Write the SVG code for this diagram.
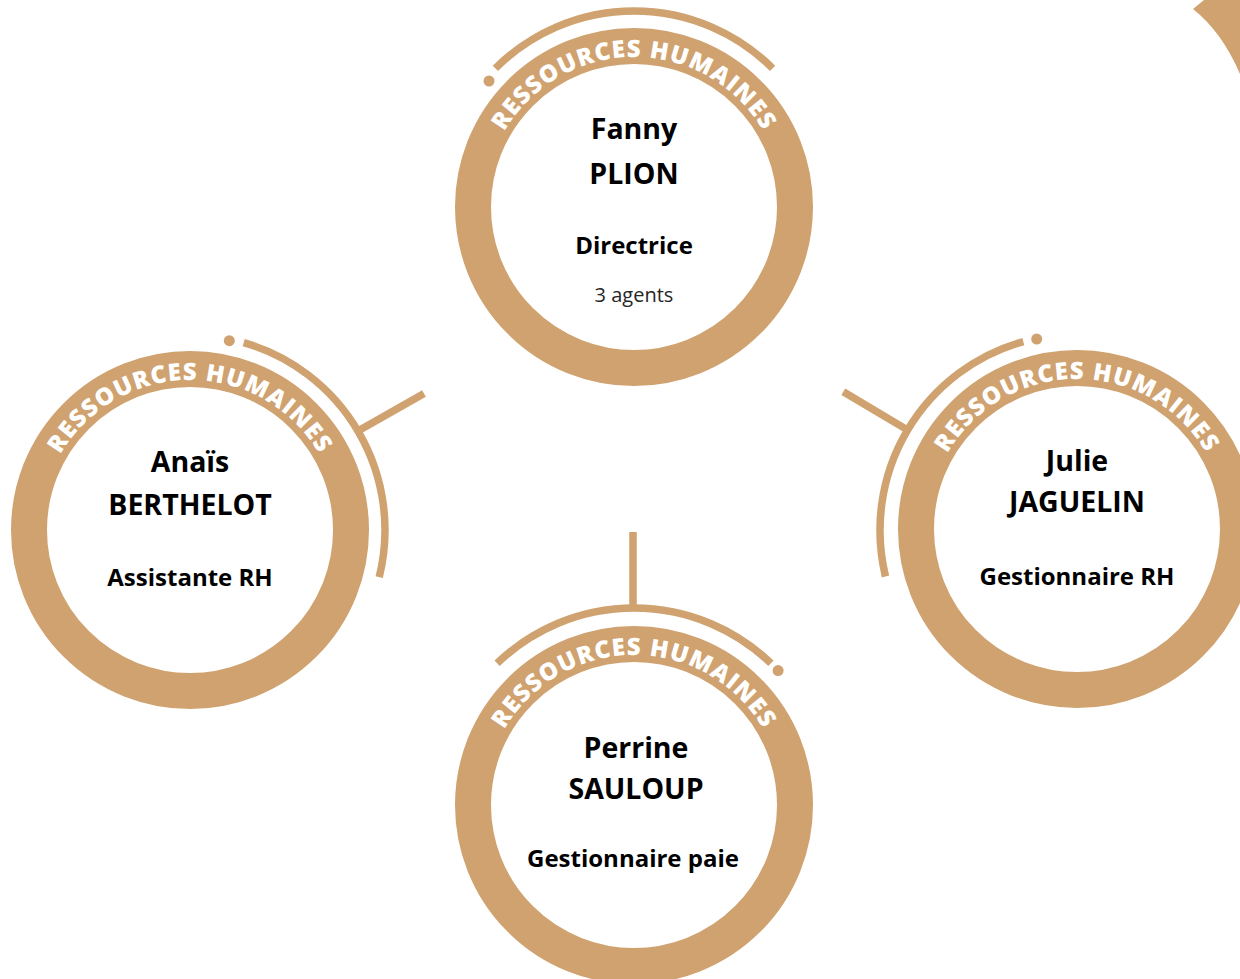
<svg xmlns="http://www.w3.org/2000/svg" width="1240" height="979" viewBox="0 0 1240 979">
  <style>
    .ring { fill: none; stroke: #CFA26F; stroke-width: 36; }
    .thin { fill: none; stroke: #CFA26F; stroke-width: 7.5; }
    .dot { fill: #CFA26F; }
    .conn { stroke: #CFA26F; stroke-width: 7.5; fill: none; }
    .band { font-family: "Open Sans", "Liberation Sans", Arial, sans-serif; font-weight: 800; font-size: 24px; fill: #ffffff; letter-spacing: 1.1px; }
    .name { font-family: "Open Sans", "Liberation Sans", sans-serif; font-weight: bold; font-size: 28.5px; fill: #000; text-anchor: middle; }
    .role { font-family: "Open Sans", "Liberation Sans", sans-serif; font-weight: bold; font-size: 24px; fill: #000; text-anchor: middle; }
    .sub { font-family: "Open Sans", "Liberation Sans", sans-serif; font-size: 20px; fill: #262626; text-anchor: middle; }
  </style>
  <defs>
    <path id="tp-top" d="M484,207 A150,150 0 0 1 784,207"/>
    <path id="tp-left" d="M40,530 A150,150 0 0 1 340,530"/>
    <path id="tp-right" d="M927,529 A150,150 0 0 1 1227,529"/>
    <path id="tp-bottom" d="M484,805 A150,150 0 0 1 784,805"/>
  </defs>
  <rect width="1240" height="979" fill="#ffffff"/>

  <path d="M1193,9 L1204,0 L1240,0 L1240,74 Q1222,32 1193,9 Z" fill="#CFA26F"/>

  <g id="connectors">
    <line class="conn" x1="358" y1="431" x2="424" y2="393.5"/>
    <line class="conn" x1="908.6" y1="430.6" x2="843.3" y2="391.7"/>
    <line class="conn" x1="633" y1="532" x2="633" y2="609"/>
  </g>

  <g id="node-fanny">
    <circle class="ring" cx="634" cy="207" r="161"/>
    <path class="thin" d="M495.4,68.4 A196,196 0 0 1 772.6,68.4"/>
    <circle class="dot" cx="489" cy="81" r="5.5"/>
    <text class="band"><textPath href="#tp-top" startOffset="50%" text-anchor="middle">RESSOURCES HUMAINES</textPath></text>
    <text class="name" x="634" y="139">Fanny</text>
    <text class="name" x="634" y="184">PLION</text>
    <text class="role" x="634" y="254">Directrice</text>
    <text class="sub" x="634" y="302">3 agents</text>
  </g>

  <g id="node-anais">
    <circle class="ring" cx="190" cy="530" r="161"/>
    <path class="thin" d="M243.7,342.6 A195,195 0 0 1 379.2,577.2"/>
    <circle class="dot" cx="229.3" cy="340.7" r="5.5"/>
    <text class="band"><textPath href="#tp-left" startOffset="50%" text-anchor="middle">RESSOURCES HUMAINES</textPath></text>
    <text class="name" x="190" y="472">Anaïs</text>
    <text class="name" x="190" y="515">BERTHELOT</text>
    <text class="role" x="190" y="586">Assistante RH</text>
  </g>

  <g id="node-julie">
    <circle class="ring" cx="1077" cy="529" r="161"/>
    <path class="thin" d="M1023.3,341.6 A196,196 0 0 0 885.5,576.5"/>
    <circle class="dot" cx="1036.7" cy="339" r="5.5"/>
    <text class="band"><textPath href="#tp-right" startOffset="50%" text-anchor="middle">RESSOURCES HUMAINES</textPath></text>
    <text class="name" x="1077" y="471">Julie</text>
    <text class="name" x="1077" y="512">JAGUELIN</text>
    <text class="role" x="1077" y="585">Gestionnaire RH</text>
  </g>

  <g id="node-perrine">
    <circle class="ring" cx="634" cy="805" r="161"/>
    <path class="thin" d="M497.1,663.3 A197,197 0 0 1 770.9,663.3"/>
    <circle class="dot" cx="778.1" cy="670.6" r="5.5"/>
    <text class="band"><textPath href="#tp-bottom" startOffset="50%" text-anchor="middle">RESSOURCES HUMAINES</textPath></text>
    <text class="name" x="636" y="758">Perrine</text>
    <text class="name" x="636" y="799">SAULOUP</text>
    <text class="role" x="633" y="867">Gestionnaire paie</text>
  </g>
</svg>
